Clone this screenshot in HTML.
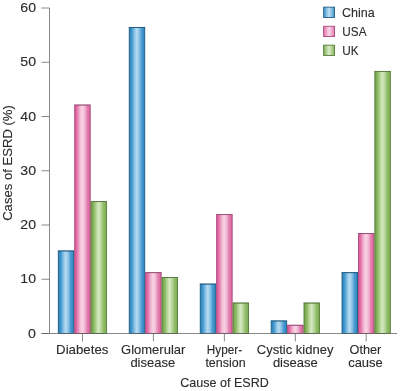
<!DOCTYPE html>
<html><head><meta charset="utf-8"><title>Causes of ESRD</title>
<style>
html,body{margin:0;padding:0;background:#fff;}
body{width:400px;height:391px;overflow:hidden;font-family:"Liberation Sans",sans-serif;}
svg{display:block;will-change:transform;}
svg text{font-family:"Liberation Sans",sans-serif;fill:#2c2c2c;stroke:#2c2c2c;stroke-width:0.12px;}
</style></head><body>
<svg width="400" height="391" viewBox="0 0 400 391">
<defs>
<linearGradient id="b" x1="0" x2="1" y1="0" y2="0">
<stop offset="0" stop-color="#267fb8"/><stop offset="0.18" stop-color="#469ad0"/><stop offset="0.33" stop-color="#88c0e5"/><stop offset="0.48" stop-color="#b8dbf1"/><stop offset="0.64" stop-color="#8ec4e7"/><stop offset="0.80" stop-color="#489bd1"/><stop offset="1" stop-color="#2f84bd"/>
</linearGradient>
<linearGradient id="p" x1="0" x2="1" y1="0" y2="0">
<stop offset="0" stop-color="#da5296"/><stop offset="0.18" stop-color="#e57cae"/><stop offset="0.33" stop-color="#f1b6d2"/><stop offset="0.48" stop-color="#f8d4e4"/><stop offset="0.64" stop-color="#f2bad4"/><stop offset="0.80" stop-color="#e480b0"/><stop offset="1" stop-color="#da629c"/>
</linearGradient>
<linearGradient id="g" x1="0" x2="1" y1="0" y2="0">
<stop offset="0" stop-color="#72a04a"/><stop offset="0.18" stop-color="#8ab860"/><stop offset="0.33" stop-color="#b5d598"/><stop offset="0.48" stop-color="#d6e9c3"/><stop offset="0.64" stop-color="#b9d79d"/><stop offset="0.80" stop-color="#91bd68"/><stop offset="1" stop-color="#7bab53"/>
</linearGradient>
<linearGradient id="lb" x1="0" x2="1" y1="0" y2="0"><stop offset="0" stop-color="#3f95cc"/><stop offset="0.5" stop-color="#c2e0f3"/><stop offset="1" stop-color="#4398ce"/></linearGradient>
<linearGradient id="lp" x1="0" x2="1" y1="0" y2="0"><stop offset="0" stop-color="#e272a9"/><stop offset="0.5" stop-color="#f9dbe8"/><stop offset="1" stop-color="#e47aae"/></linearGradient>
<linearGradient id="lg" x1="0" x2="1" y1="0" y2="0"><stop offset="0" stop-color="#82b158"/><stop offset="0.5" stop-color="#dcecca"/><stop offset="1" stop-color="#88b65e"/></linearGradient>
</defs>
<rect width="400" height="391" fill="#fff"/>
<g shape-rendering="auto">
<rect x="58.30" y="250.95" width="15.50" height="82.55" fill="url(#b)" stroke="#1b5c87" stroke-width="0.9"/>
<line x1="57.85" x2="74.25" y1="250.95" y2="250.95" stroke="#1d5578" stroke-width="0.75" opacity="0.7"/>
<rect x="74.70" y="105.02" width="15.50" height="228.49" fill="url(#p)" stroke="#a8457c" stroke-width="0.9"/>
<line x1="74.25" x2="90.65" y1="105.02" y2="105.02" stroke="#80506e" stroke-width="0.75" opacity="0.7"/>
<rect x="91.10" y="201.58" width="15.50" height="131.92" fill="url(#g)" stroke="#557d36" stroke-width="0.9"/>
<line x1="90.65" x2="107.05" y1="201.58" y2="201.58" stroke="#54713d" stroke-width="0.75" opacity="0.7"/>
<rect x="129.25" y="27.44" width="15.50" height="306.06" fill="url(#b)" stroke="#1b5c87" stroke-width="0.9"/>
<line x1="128.80" x2="145.20" y1="27.44" y2="27.44" stroke="#1d5578" stroke-width="0.75" opacity="0.7"/>
<rect x="145.65" y="272.65" width="15.50" height="60.85" fill="url(#p)" stroke="#a8457c" stroke-width="0.9"/>
<line x1="145.20" x2="161.60" y1="272.65" y2="272.65" stroke="#80506e" stroke-width="0.75" opacity="0.7"/>
<rect x="162.05" y="277.53" width="15.50" height="55.97" fill="url(#g)" stroke="#557d36" stroke-width="0.9"/>
<line x1="161.60" x2="178.00" y1="277.53" y2="277.53" stroke="#54713d" stroke-width="0.75" opacity="0.7"/>
<rect x="200.25" y="284.04" width="15.50" height="49.46" fill="url(#b)" stroke="#1b5c87" stroke-width="0.9"/>
<line x1="199.80" x2="216.20" y1="284.04" y2="284.04" stroke="#1d5578" stroke-width="0.75" opacity="0.7"/>
<rect x="216.65" y="214.60" width="15.50" height="118.90" fill="url(#p)" stroke="#a8457c" stroke-width="0.9"/>
<line x1="216.20" x2="232.60" y1="214.60" y2="214.60" stroke="#80506e" stroke-width="0.75" opacity="0.7"/>
<rect x="233.05" y="303.03" width="15.50" height="30.47" fill="url(#g)" stroke="#557d36" stroke-width="0.9"/>
<line x1="232.60" x2="249.00" y1="303.03" y2="303.03" stroke="#54713d" stroke-width="0.75" opacity="0.7"/>
<rect x="271.20" y="320.93" width="15.50" height="12.57" fill="url(#b)" stroke="#1b5c87" stroke-width="0.9"/>
<line x1="270.75" x2="287.15" y1="320.93" y2="320.93" stroke="#1d5578" stroke-width="0.75" opacity="0.7"/>
<rect x="287.60" y="325.27" width="15.50" height="8.23" fill="url(#p)" stroke="#a8457c" stroke-width="0.9"/>
<line x1="287.15" x2="303.55" y1="325.27" y2="325.27" stroke="#80506e" stroke-width="0.75" opacity="0.7"/>
<rect x="304.00" y="303.03" width="15.50" height="30.47" fill="url(#g)" stroke="#557d36" stroke-width="0.9"/>
<line x1="303.55" x2="319.95" y1="303.03" y2="303.03" stroke="#54713d" stroke-width="0.75" opacity="0.7"/>
<rect x="342.05" y="272.65" width="15.50" height="60.85" fill="url(#b)" stroke="#1b5c87" stroke-width="0.9"/>
<line x1="341.60" x2="358.00" y1="272.65" y2="272.65" stroke="#1d5578" stroke-width="0.75" opacity="0.7"/>
<rect x="358.45" y="233.59" width="15.50" height="99.91" fill="url(#p)" stroke="#a8457c" stroke-width="0.9"/>
<line x1="358.00" x2="374.40" y1="233.59" y2="233.59" stroke="#80506e" stroke-width="0.75" opacity="0.7"/>
<rect x="374.85" y="71.38" width="15.50" height="262.12" fill="url(#g)" stroke="#557d36" stroke-width="0.9"/>
<line x1="374.40" x2="390.80" y1="71.38" y2="71.38" stroke="#54713d" stroke-width="0.75" opacity="0.7"/>
</g>
<line x1="49.5" x2="49.5" y1="8" y2="333.5" stroke="#606060" stroke-width="0.75"/>
<line x1="41.5" x2="397" y1="333.5" y2="333.5" stroke="#606060" stroke-width="0.75"/>
<line x1="41.5" x2="49.5" y1="333.50" y2="333.50" stroke="#606060" stroke-width="0.75"/>
<text x="36" y="337.70" text-anchor="end" font-size="13" textLength="7.9" lengthAdjust="spacingAndGlyphs">0</text>
<line x1="41.5" x2="49.5" y1="279.25" y2="279.25" stroke="#606060" stroke-width="0.75"/>
<text x="36" y="283.45" text-anchor="end" font-size="13" textLength="15.7" lengthAdjust="spacingAndGlyphs">10</text>
<line x1="41.5" x2="49.5" y1="225.00" y2="225.00" stroke="#606060" stroke-width="0.75"/>
<text x="36" y="229.20" text-anchor="end" font-size="13" textLength="15.7" lengthAdjust="spacingAndGlyphs">20</text>
<line x1="41.5" x2="49.5" y1="170.75" y2="170.75" stroke="#606060" stroke-width="0.75"/>
<text x="36" y="174.95" text-anchor="end" font-size="13" textLength="15.7" lengthAdjust="spacingAndGlyphs">30</text>
<line x1="41.5" x2="49.5" y1="116.50" y2="116.50" stroke="#606060" stroke-width="0.75"/>
<text x="36" y="120.70" text-anchor="end" font-size="13" textLength="15.7" lengthAdjust="spacingAndGlyphs">40</text>
<line x1="41.5" x2="49.5" y1="62.25" y2="62.25" stroke="#606060" stroke-width="0.75"/>
<text x="36" y="66.45" text-anchor="end" font-size="13" textLength="15.7" lengthAdjust="spacingAndGlyphs">50</text>
<line x1="41.5" x2="49.5" y1="8.00" y2="8.00" stroke="#606060" stroke-width="0.75"/>
<text x="36" y="12.20" text-anchor="end" font-size="13" textLength="15.7" lengthAdjust="spacingAndGlyphs">60</text>
<line x1="82.45" x2="82.45" y1="333.5" y2="341.5" stroke="#606060" stroke-width="0.75"/>
<line x1="153.40" x2="153.40" y1="333.5" y2="341.5" stroke="#606060" stroke-width="0.75"/>
<line x1="224.40" x2="224.40" y1="333.5" y2="341.5" stroke="#606060" stroke-width="0.75"/>
<line x1="295.35" x2="295.35" y1="333.5" y2="341.5" stroke="#606060" stroke-width="0.75"/>
<line x1="366.20" x2="366.20" y1="333.5" y2="341.5" stroke="#606060" stroke-width="0.75"/>
<text x="82.25" y="353.6" text-anchor="middle" font-size="13" textLength="52.3" lengthAdjust="spacingAndGlyphs">Diabetes</text>
<text x="153.2" y="353.7" text-anchor="middle" font-size="13">Glomerular</text>
<text x="152.8" y="367" text-anchor="middle" font-size="13">disease</text>
<text x="224.5" y="353.7" text-anchor="middle" font-size="13" textLength="35.4" lengthAdjust="spacingAndGlyphs">Hyper-</text>
<text x="225.5" y="367" text-anchor="middle" font-size="13" textLength="40.2" lengthAdjust="spacingAndGlyphs">tension</text>
<text x="295.1" y="353.7" text-anchor="middle" font-size="13">Cystic kidney</text>
<text x="295.3" y="367" text-anchor="middle" font-size="13">disease</text>
<text x="365.4" y="353.8" text-anchor="middle" font-size="13" textLength="31.8" lengthAdjust="spacingAndGlyphs">Other</text>
<text x="365.5" y="367" text-anchor="middle" font-size="13">cause</text>
<text x="224.5" y="386.8" text-anchor="middle" font-size="13" textLength="88.5" lengthAdjust="spacingAndGlyphs">Cause of ESRD</text>
<text transform="translate(12.3,163) rotate(-90)" text-anchor="middle" font-size="13.1">Cases of ESRD (%)</text>
<g>
<rect x="323.65" y="7.15" width="10.8" height="10.3" fill="url(#lb)" stroke="#1b5c87" stroke-width="0.9"/>
<rect x="323.65" y="26.25" width="10.8" height="10.3" fill="url(#lp)" stroke="#a8457c" stroke-width="0.9"/>
<rect x="323.65" y="45.15" width="10.8" height="10.3" fill="url(#lg)" stroke="#557d36" stroke-width="0.9"/>
<text x="342" y="17" font-size="13" textLength="32.8" lengthAdjust="spacingAndGlyphs">China</text>
<text x="342.3" y="36.2" font-size="13.2" textLength="24.2" lengthAdjust="spacingAndGlyphs">USA</text>
<text x="342.3" y="55.3" font-size="13.2" textLength="16.4" lengthAdjust="spacingAndGlyphs">UK</text>
</g>
</svg>
</body></html>
